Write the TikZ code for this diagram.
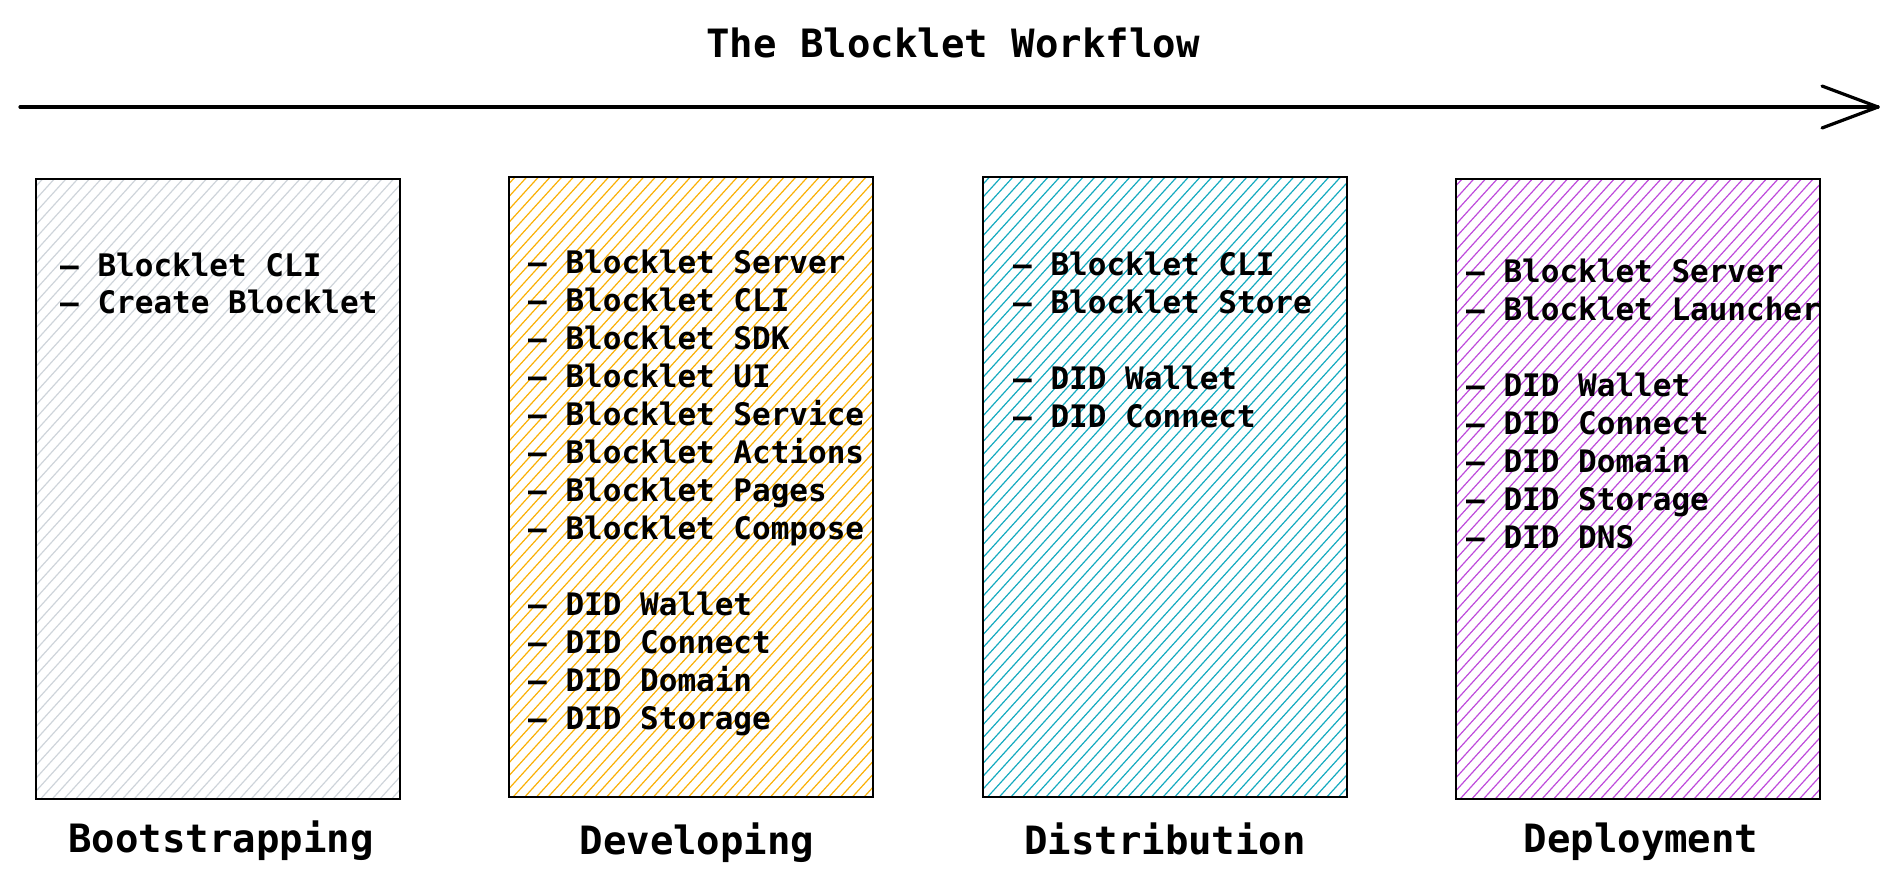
\documentclass[tikz,border=0pt]{standalone}
\usepackage{fontspec}
\setmainfont{DejaVu Sans Mono}
\definecolor{hgray}{HTML}{CED4DA}
\definecolor{horange}{HTML}{FAB005}
\definecolor{hcyan}{HTML}{15AABF}
\definecolor{hpurple}{HTML}{BE4BDB}
\begin{document}
\begin{tikzpicture}[x=1pt,y=-1pt,
  item/.style={anchor=base west, inner sep=0pt, font=\fontsize{31}{37}\selectfont\bfseries},
  head/.style={anchor=base, inner sep=0pt, font=\fontsize{39}{45}\selectfont\bfseries},
  hatchbox/.style={draw=black, line width=2pt, inner sep=0pt,
    minimum width=364pt, minimum height=620pt,
    path picture={\foreach \k in {0,...,90}{\draw[#1, line width=1.2pt]
      ([xshift=\k*11.7pt-580pt]path picture bounding box.south west) -- ++(580pt,638pt);}}},
  arrowline/.style={line width=3.2pt, line cap=round, line join=round}
]
\useasboundingbox (0,0) rectangle (1897,883);

% title and arrow
\node[anchor=base, inner sep=0pt, font=\fontsize{39}{45}\selectfont\bfseries] (title) at (953,57) {The Blocklet Workflow};
\coordinate (as) at (20,107);
\coordinate (ae) at (1878,107);
\draw[arrowline] (as) -- (ae);
\draw[arrowline] ([shift={(-56pt,21pt)}]ae) -- (ae) -- ([shift={(-56pt,-21pt)}]ae);

% boxes
\node[hatchbox=hgray] (b1) at (218,488.5) {};
\node[hatchbox=horange] (b2) at (690.5,486.5) {};
\node[hatchbox=hcyan] (b3) at (1165,486.5) {};
\node[hatchbox=hpurple] (b4) at (1637.5,488.5) {};

% box texts
\foreach \i/\t in {0/Blocklet CLI, 1/Create Blocklet}
  \node[item] (boot\i) at (60,276+37.5*\i) {-- \t};
\foreach \i/\t in {0/Blocklet Server, 1/Blocklet CLI, 2/Blocklet SDK, 3/Blocklet UI,
  4/Blocklet Service, 5/Blocklet Actions, 6/Blocklet Pages, 7/Blocklet Compose,
  9/DID Wallet, 10/DID Connect, 11/DID Domain, 12/DID Storage}
  \node[item] (dev\i) at (528,273+38*\i) {-- \t};
\foreach \i/\t in {0/Blocklet CLI, 1/Blocklet Store, 3/DID Wallet, 4/DID Connect}
  \node[item] (dist\i) at (1013,275.5+38*\i) {-- \t};
\foreach \i/\t in {0/Blocklet Server, 1/Blocklet Launcher, 3/DID Wallet, 4/DID Connect,
  5/DID Domain, 6/DID Storage, 7/DID DNS}
  \node[item] (dep\i) at (1466,282+38*\i) {-- \t};

% stage labels
\node[head] (l1) at (221,852) {Bootstrapping};
\node[head] (l2) at (697,854) {Developing};
\node[head] (l3) at (1165,854) {Distribution};
\node[head] (l4) at (1641,852) {Deployment};
\end{tikzpicture}
\end{document}
